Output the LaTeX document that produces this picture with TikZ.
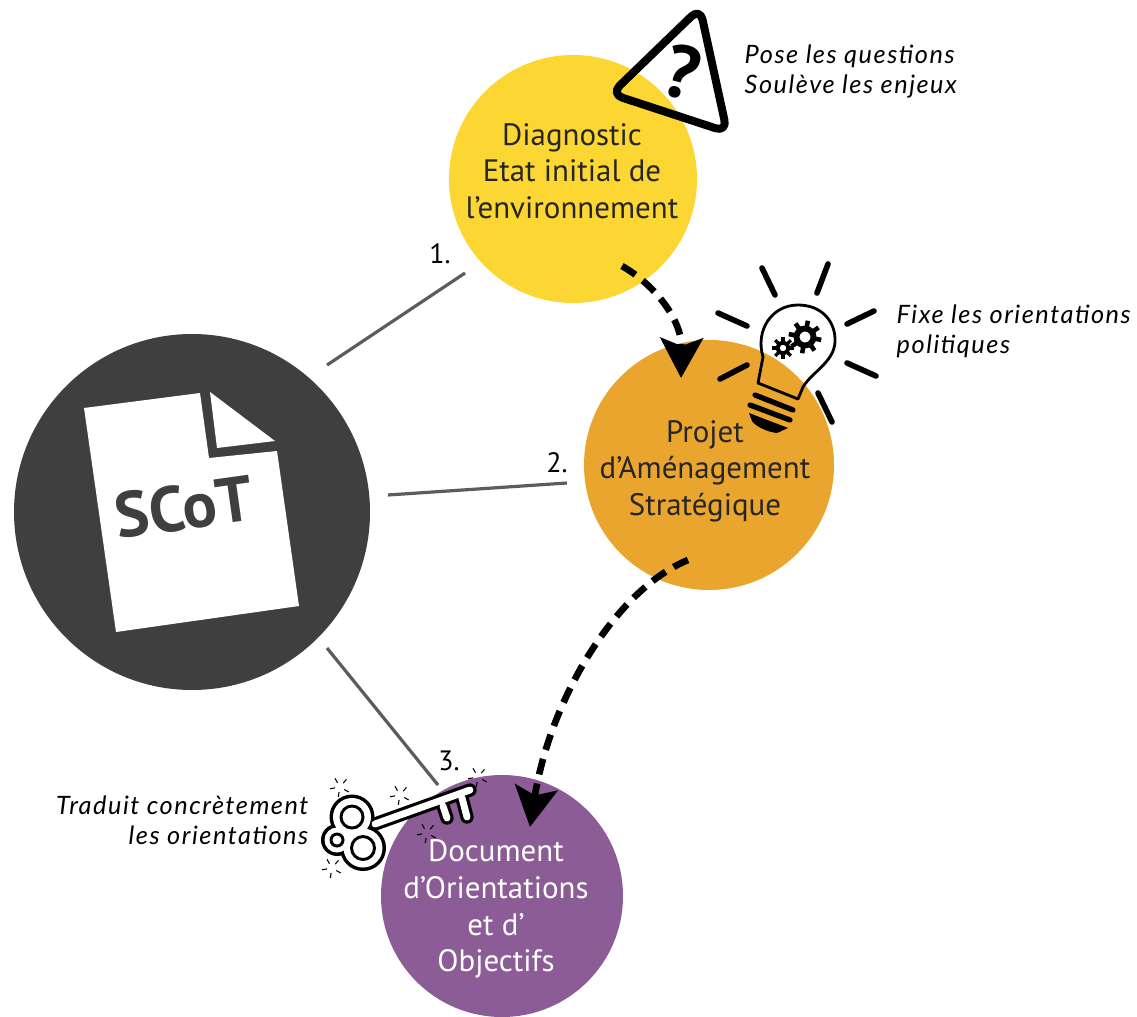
\documentclass[tikz,border=0pt]{standalone}
\usepackage{fontspec}
\setmainfont{PT Sans}
\newfontfamily\handfont[LetterSpace=6]{Lato}
\usetikzlibrary{arrows.meta}
\definecolor{scotgrey}{HTML}{3F3F3F}
\definecolor{diagyellow}{HTML}{FCD632}
\definecolor{projorange}{HTML}{E9A52E}
\definecolor{docpurple}{HTML}{8B5C95}
\tikzset{
  phase/.style={circle,inner sep=0pt},
  phasetext/.style={align=center,font=\fontsize{23.2}{27.5}\selectfont,text=black!85},
  note/.style={align=left,font=\handfont\itshape\fontsize{19}{22.5}\selectfont},
  num/.style={font=\fontsize{21}{24}\selectfont},
  link/.style={draw=scotgrey!85,line width=2.4pt},
  flow/.style={line width=5pt,dash pattern=on 12pt off 7pt,-{Stealth[length=30pt,width=32pt,inset=6pt]}},
  ray/.style={line width=4.2pt,line cap=round},
  spark/.style={line width=.8pt},
}
\begin{document}
\begin{tikzpicture}[x=.75pt,y=-.75pt]
  \useasboundingbox (0,0) rectangle (1137,1016);
  \fill[white] (0,0) rectangle (1137,1016);
  \draw
    (192,512) node[phase,minimum size=267pt,fill=scotgrey] (scot){}
    (573,179) node[phase,minimum size=186pt,fill=diagyellow] (diag){}
    (709,465) node[phase,minimum size=187.5pt,fill=projorange] (proj){}
    (502,896) node[phase,minimum size=181.5pt,fill=docpurple] (doc){};
  \draw
    (572,171) node[phasetext] (diagtext){Diagnostic\\Etat initial de\\l’environnement}
    (705,471) node[phasetext] (projtext){Projet\\d’Aménagement\\Stratégique}
    (496,909) node[phasetext,text=white] (doctext){Document\\d’Orientations\\et d’\\Objectifs};
  \draw
    (440,254) node[num] (one){1.}
    (557,463) node[num] (two){2.}
    (449,761) node[num] (three){3.};
  \coordinate (l1a) at (327,365);
  \coordinate (l1b) at (465,273);
  \coordinate (l2a) at (388,495);
  \coordinate (l2b) at (567,483);
  \coordinate (l3a) at (327,648);
  \coordinate (l3b) at (438,785);
  \begin{scope}[link]
    \draw (l1a) to (l1b);
    \draw (l2a) to (l2b);
    \draw (l3a) to (l3b);
  \end{scope}
  \fill[white] (84,408) -- (200,393) -- (209,458) -- (277,451) -- (299,606) -- (116,632) -- cycle;
  \fill[white] (210,392) -- (275,441) -- (217,448) -- cycle;
  \draw (184,507) node[rotate=8,text=scotgrey,font=\bfseries\fontsize{48}{48}\selectfont] (scottext){SCoT};
  \coordinate (f1a) at (622,266);
  \coordinate (f1b) at (681,378);
  \coordinate (f2a) at (688,560);
  \coordinate (f2b) at (530,827);
  \draw[flow] (f1a) .. controls (655,285) and (682,320) .. (f1b);
  \draw[flow] (f2a) .. controls (615,590) and (550,700) .. (f2b);
  \draw[line width=6pt,line join=round,rounded corners=9pt] (700,8) -- (611,94) -- (727,132) -- cycle;
  \draw (682,72) node[rotate=-14,font=\bfseries\fontsize{56}{56}\selectfont] (quest){?};
  \draw (740,71) node[note,anchor=west] (posenote){Pose les questions\\Soulève les enjeux};
  \begin{scope}[ray]
    \draw (762,268) -- (775,295);
    \draw (828,264) -- (817,293);
    \draw (718,313) -- (747,326);
    \draw (874,311) -- (847,324);
    \draw (747,365) -- (720,379);
    \draw (847,363) -- (876,376);
    \draw (818,393) -- (832,422);
  \end{scope}
  \draw[line width=2.1pt,line join=round]
    (758,383) -- (763,357) .. controls (755,330) and (772,305) .. (798,305)
    .. controls (822,305) and (836,322) .. (835,342)
    .. controls (834,362) and (812,372) .. (803,387) -- (798,399) -- cycle;
  \begin{scope}[line width=4pt,line cap=round]
    \draw (755,395) -- (793,410);
    \draw (750,405) -- (790,420);
  \end{scope}
  \fill (749,413) -- (788,428) -- (777,433) .. controls (767,432) and (755,426) .. (752,421) -- cycle;
  \foreach \a in {0,45,...,315} {
    \draw[line width=3.4pt] (805,337) ++(\a+10:10) -- ++(\a+10:6.5);
  }
  \foreach \a in {0,45,...,315} {
    \draw[line width=2.4pt] (783,348) ++(\a:6) -- ++(\a:5);
  }
  \draw[line width=4.4pt] (805,337) circle (8.5);
  \draw[line width=3pt] (783,348) circle (5.5);
  \draw (892,331) node[note,anchor=west] (fixnote){Fixe les orientations\\politiques};
  \draw[line width=10pt,line cap=round,line join=round]
    (375,824) -- (470,790) (443,806) -- (447,818) (462,798) -- (467,817);
  \fill (352,817) circle (22.5) (363,848) circle (23) (337,840) circle (16);
  \draw[white,line width=5.2pt,line cap=round,line join=round]
    (375,824) -- (470,790) (443,806) -- (447,818) (462,798) -- (467,817);
  \fill[white] (352,817) circle (19) (363,848) circle (19.5) (337,840) circle (12.5);
  \draw[line width=2.2pt] (352,817) circle (11) (363,848) circle (11.5) (337,840) circle (6);
  \foreach \cx/\cy in {340/787,400/795,478/777,427/833,332/868} {
    \foreach \a in {30,100,170,240,310} {
      \draw[spark] (\cx,\cy) ++(\a:5) -- ++(\a:5);
    }
  }
  \draw (313,820) node[note,anchor=east,align=right] (keynote){Traduit concrètement\\les orientations};
\end{tikzpicture}
\end{document}
